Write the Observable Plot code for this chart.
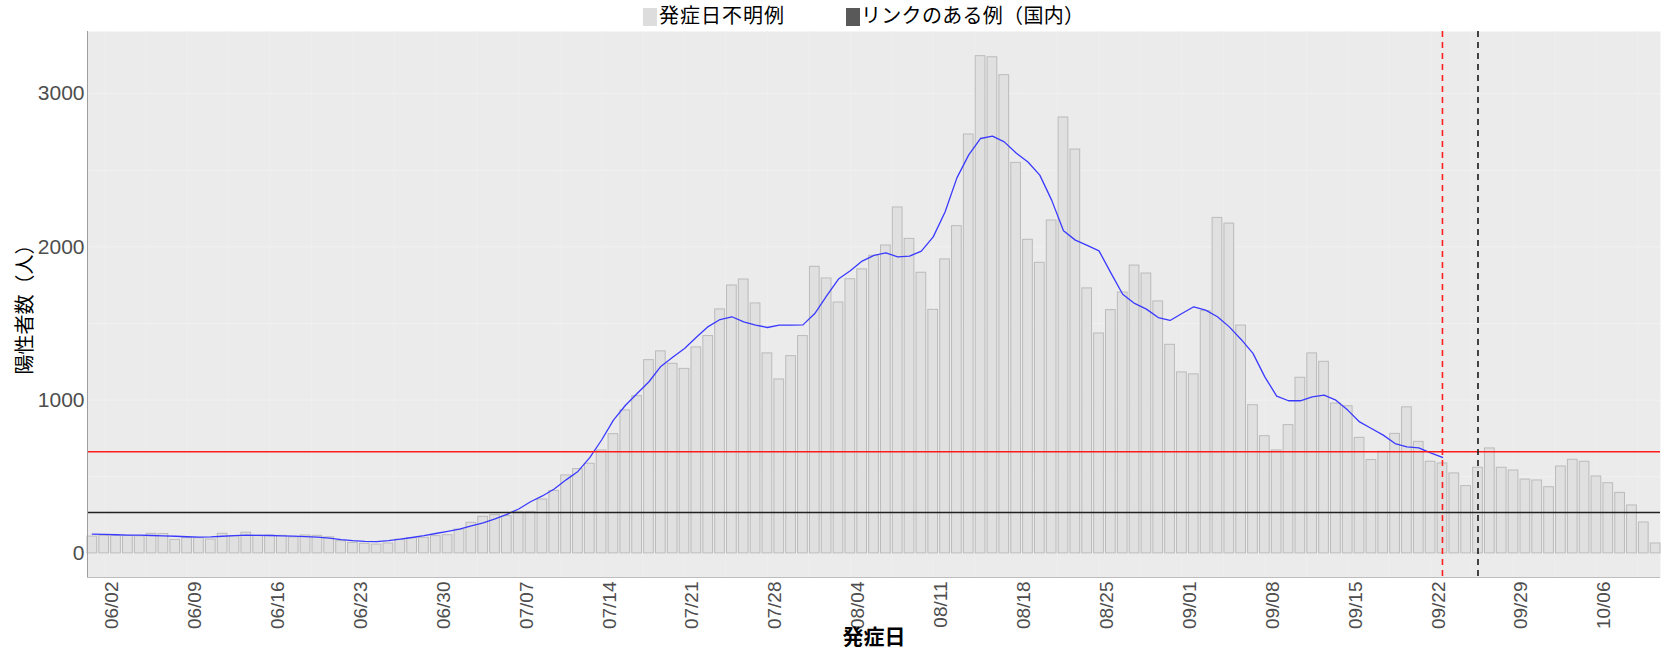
<!DOCTYPE html>
<html>
<head>
<meta charset="utf-8">
<script src="https://cdn.jsdelivr.net/npm/d3@7"></script>
<script src="https://cdn.jsdelivr.net/npm/@observablehq/plot@0.6"></script>
<style>
  body { margin: 0; background: #ffffff; width: 1665px; height: 652px; overflow: hidden; }
  #legend { position: relative; height: 30px; width: 1665px; font-family: "Noto Sans CJK JP", sans-serif; color: #000; }
  .sw { position: absolute; top: 8px; width: 14px; height: 18px; }
  .lt { position: absolute; top: 2px; font-size: 20px; line-height: 26px; white-space: nowrap; }
</style>
</head>
<body>
<div id="legend">
  <div class="sw" style="left:643px;background:#DDDDDD;"></div>
  <div class="lt" id="lt1" style="left:659px;letter-spacing:1px;">発症日不明例</div>
  <div class="sw" style="left:846px;background:#595959;"></div>
  <div class="lt" id="lt2" style="left:861px;font-size:20px;letter-spacing:0.3px;">リンクのある例（国内）</div>
</div>
<div id="chart"></div>
<script>
// ---- data ----
const startDate = "2021-05-31";           // first onset date (bar 0)
const counts = [
  110,115,115,114,112,128,127,88,100,100,
  91,128,111,135,116,117,115,105,117,115,
  105,80,69,63,58,65,90,100,102,113,
  119,156,200,239,250,243,271,271,352,408,
  509,550,585,672,778,933,1026,1261,1318,1237,
  1204,1344,1418,1592,1748,1787,1631,1305,1135,1287,
  1418,1870,1794,1637,1789,1853,1942,2009,2257,2052,
  1831,1589,1918,2135,2733,3244,3237,3120,2548,2046,
  1896,2172,2844,2635,1729,1435,1587,1702,1878,1826,
  1644,1361,1181,1168,1581,2189,2152,1487,967,765,
  672,837,1146,1305,1250,978,960,754,609,663,
  780,953,728,598,587,522,439,559,685,559,
  541,482,476,432,567,611,598,502,458,395,
  313,202,65
];
const movingAvg = [
  126,124,122,120,119,117,115,112,109,107,
  108,112,116,119,118,117,115,113,110,106,
  100,90,83,79,77,84,93,104,116,130,
  144,158,180,200,225,255,290,337,375,420,
  480,535,625,740,870,965,1043,1120,1220,1280,
  1337,1410,1480,1526,1544,1511,1490,1474,1489,1490,
  1491,1565,1680,1790,1844,1907,1945,1961,1935,1939,
  1972,2065,2228,2450,2600,2707,2722,2685,2613,2554,
  2468,2305,2105,2044,2010,1974,1830,1691,1631,1594,
  1539,1520,1565,1609,1587,1544,1478,1396,1305,1152,
  1026,996,996,1022,1033,1000,935,858,815,772,
  717,695,689,656,626
];
const hLineValues = [663, 267];           // red, black thresholds
const hLineColors = ["#FF1A1A", "#222222"];
const vLineDates = ["2021-09-22", "2021-09-25"];
const vLineColors = ["#FF2020", "#1A1A1A"];
const tickDates = ["06/02","06/09","06/16","06/23","06/30","07/07","07/14","07/21","07/28",
  "08/04","08/11","08/18","08/25","09/01","09/08","09/15","09/22","09/29","10/06"];
const yTicks = [0, 1000, 2000, 3000];
const yDomain = [-157, 3405];
const legendLabels = ["発症日不明例", "リンクのある例（国内）"];
const xTitle = "発症日";
const yTitle = "陽性者数（人）";

// ---- build ----
const DAY = 864e5;
const t0 = Date.parse(startDate + "T00:00:00Z");
const bars = counts.map((v, i) => ({date: new Date(t0 + i * DAY), value: v}));
const avgData = movingAvg.map((v, i) => ({date: new Date(t0 + i * DAY), value: v}));
const half = 0.41 * DAY;
const xDomain = [new Date(t0 - half), new Date(t0 + (counts.length - 1) * DAY + half)];
const ticks = tickDates.map(s => new Date("2021-" + s.replace("/", "-") + "T00:00:00Z"));
const gridX = d3.range(0, 40).map(k => new Date(t0 + (1 + 3.5 * k) * DAY)).filter(d => d < xDomain[1]);
const gridY = d3.range(0, 3500, 500);
const vLines = vLineDates.map((s, i) => ({date: new Date(s + "T00:00:00Z"), color: vLineColors[i]}));
const hLines = hLineValues.map((v, i) => ({value: v, color: hLineColors[i]}));

const chart = Plot.plot({
  width: 1665,
  height: 622,
  marginTop: 1,
  marginLeft: 87,
  marginRight: 5,
  marginBottom: 75,
  style: {fontFamily: "'Liberation Sans', Arial, sans-serif", background: "#ffffff", overflow: "visible"},
  x: {type: "utc", domain: xDomain},
  y: {domain: yDomain},
  marks: [
    Plot.frame({fill: "#EBEBEB"}),
    Plot.ruleY(gridY, {stroke: "#F1F1F1", strokeWidth: 1}),
    Plot.ruleX(gridX, {stroke: "#EEEEEE", strokeWidth: 1}),
    Plot.rectY(bars, {
      x1: d => new Date(+d.date - half),
      x2: d => new Date(+d.date + half),
      y1: 0,
      y2: "value",
      fill: "#E0E0E0",
      stroke: "#BBBBBB",
      strokeWidth: 1
    }),
    Plot.line(avgData, {x: "date", y: "value", stroke: "#3A3AFF", strokeWidth: 1.3}),
    Plot.ruleY(hLines, {y: "value", stroke: "color", strokeWidth: 1.6}),
    Plot.ruleX(vLines, {x: "date", stroke: "color", strokeWidth: 1.6, strokeDasharray: "6,5"}),
    Plot.ruleX([xDomain[0]], {stroke: "#9E9E9E", strokeWidth: 1}),
    Plot.ruleY([yDomain[0]], {stroke: "#BDBDBD", strokeWidth: 1}),
    Plot.axisY({ticks: yTicks, tickFormat: d3.format("d"), tickSize: 0, tickPadding: 3, fontSize: 21,
      fill: "#4D4D4D", label: null}),
    Plot.axisX({ticks: ticks, tickFormat: d3.utcFormat("%m/%d"), tickRotate: -90, tickSize: 0, tickPadding: 4,
      fontSize: 19, fill: "#4D4D4D", label: null, dx: -4}),
    Plot.text([xTitle], {text: d => d, frameAnchor: "bottom", dy: 66, fontSize: 21, fontWeight: "bold",
      fill: "#000", fontFamily: "'Noto Sans CJK JP', sans-serif"}),
    Plot.text([yTitle], {text: d => d, frameAnchor: "left", textAnchor: "middle", lineAnchor: "middle",
      dx: -62, rotate: -90, fontSize: "20px",
      fill: "#000", fontFamily: "'Noto Sans CJK JP', sans-serif"})
  ]
});
document.getElementById("chart").appendChild(chart);
</script>
</body>
</html>
